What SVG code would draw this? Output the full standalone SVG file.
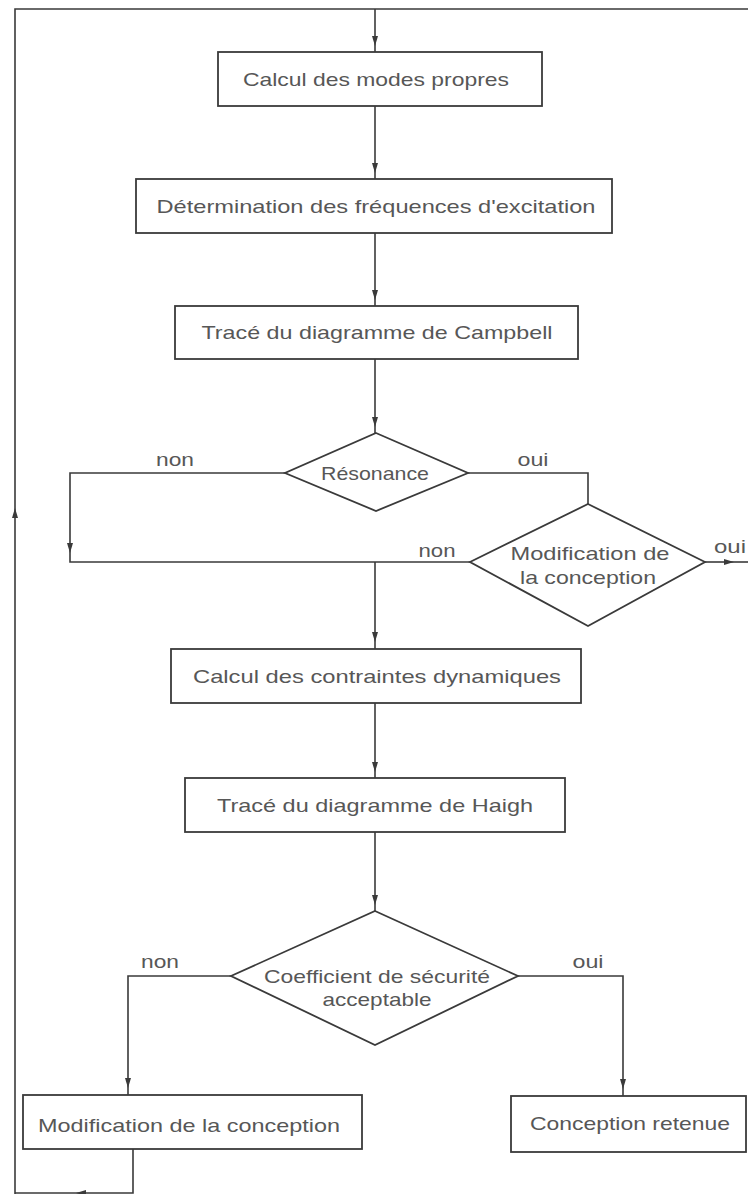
<svg xmlns="http://www.w3.org/2000/svg" width="748" height="1194" viewBox="0 0 748 1194">
<style>
.box{fill:#fff;stroke:#3a3a3a;stroke-width:1.8}
.ln{fill:none;stroke:#3a3a3a;stroke-width:1.6}
.ar{fill:none;stroke:#3a3a3a;stroke-width:1.6;marker-end:url(#ah)}
text{font-family:"Liberation Sans",Arial,sans-serif;font-size:19px;fill:#575757;text-anchor:middle}
</style>
<defs>
<marker id="ah" viewBox="0 0 10 6" refX="10" refY="3" markerWidth="10" markerHeight="6" markerUnits="userSpaceOnUse" orient="auto">
<path d="M0,0 L10,3 L0,6 z" fill="#3a3a3a"/>
</marker>
</defs>
<rect width="748" height="1194" fill="#fff"/>
<g id="connectors">
<path class="ar" d="M15,1194 L15,508"/>
<path class="ln" d="M15,508 L15,9 L748,9"/>
<path class="ar" d="M375,9 L375,46"/>
<path class="ln" d="M375,46 L375,52"/>
<path class="ar" d="M375,106 L375,173"/>
<path class="ln" d="M375,173 L375,179"/>
<path class="ar" d="M375,233 L375,300"/>
<path class="ln" d="M375,300 L375,306"/>
<path class="ar" d="M375,359 L375,427"/>
<path class="ln" d="M375,427 L375,433"/>
<path class="ar" d="M285,473 L70,473 L70,553"/>
<path class="ln" d="M70,553 L70,562 L470,562"/>
<path class="ln" d="M468,473 L588,473 L588,504"/>
<path class="ar" d="M705,562 L734,562"/>
<path class="ln" d="M734,562 L748,562"/>
<path class="ar" d="M375,562 L375,642"/>
<path class="ln" d="M375,642 L375,649"/>
<path class="ar" d="M375,703 L375,772"/>
<path class="ln" d="M375,772 L375,778"/>
<path class="ar" d="M375,832 L375,905"/>
<path class="ln" d="M375,905 L375,911"/>
<path class="ar" d="M231,976 L128,976 L128,1088"/>
<path class="ln" d="M128,1088 L128,1095"/>
<path class="ar" d="M518,976 L623,976 L623,1089"/>
<path class="ln" d="M623,1089 L623,1096"/>
<path class="ar" d="M133,1149 L133,1193 L76,1193"/>
<path class="ln" d="M76,1193 L15,1193"/>
<text x="175" y="466" textLength="38" lengthAdjust="spacingAndGlyphs">non</text>
<text x="533" y="466" textLength="31" lengthAdjust="spacingAndGlyphs">oui</text>
<text x="437" y="557" textLength="37" lengthAdjust="spacingAndGlyphs">non</text>
<text x="730" y="553" textLength="32" lengthAdjust="spacingAndGlyphs">oui</text>
<text x="160" y="968" textLength="38" lengthAdjust="spacingAndGlyphs">non</text>
<text x="588" y="968" textLength="31" lengthAdjust="spacingAndGlyphs">oui</text>
</g>
<g id="n1"><rect class="box" x="218" y="52" width="324" height="54"/><text x="376" y="86" textLength="266" lengthAdjust="spacingAndGlyphs">Calcul des modes propres</text></g>
<g id="n2"><rect class="box" x="136" y="179" width="476" height="54"/><text x="376" y="213" textLength="439" lengthAdjust="spacingAndGlyphs">Détermination des fréquences d'excitation</text></g>
<g id="n3"><rect class="box" x="175" y="306" width="403" height="53"/><text x="377" y="339" textLength="351" lengthAdjust="spacingAndGlyphs">Tracé du diagramme de Campbell</text></g>
<g id="n4"><polygon class="box" points="376,433 468,473 376,511 285,473"/><text x="375" y="480" textLength="108" lengthAdjust="spacingAndGlyphs">Résonance</text></g>
<g id="n5"><polygon class="box" points="588,504 705,562 588,626 470,562"/><text x="590" y="560" textLength="159" lengthAdjust="spacingAndGlyphs">Modification de</text><text x="588" y="584" textLength="136" lengthAdjust="spacingAndGlyphs">la conception</text></g>
<g id="n6"><rect class="box" x="171" y="649" width="410" height="54"/><text x="377" y="683" textLength="368" lengthAdjust="spacingAndGlyphs">Calcul des contraintes dynamiques</text></g>
<g id="n7"><rect class="box" x="185" y="778" width="380" height="54"/><text x="375" y="812" textLength="316" lengthAdjust="spacingAndGlyphs">Tracé du diagramme de Haigh</text></g>
<g id="n8"><polygon class="box" points="375,911 518,976 375,1045 231,976"/><text x="377" y="983" textLength="226" lengthAdjust="spacingAndGlyphs">Coefficient de sécurité</text><text x="377" y="1006" textLength="109" lengthAdjust="spacingAndGlyphs">acceptable</text></g>
<g id="n9"><rect class="box" x="23" y="1095" width="339" height="54"/><text x="189" y="1132" textLength="302" lengthAdjust="spacingAndGlyphs">Modification de la conception</text></g>
<g id="n10"><rect class="box" x="511" y="1096" width="235" height="56"/><text x="630" y="1130" textLength="200" lengthAdjust="spacingAndGlyphs">Conception retenue</text></g>
</svg>
